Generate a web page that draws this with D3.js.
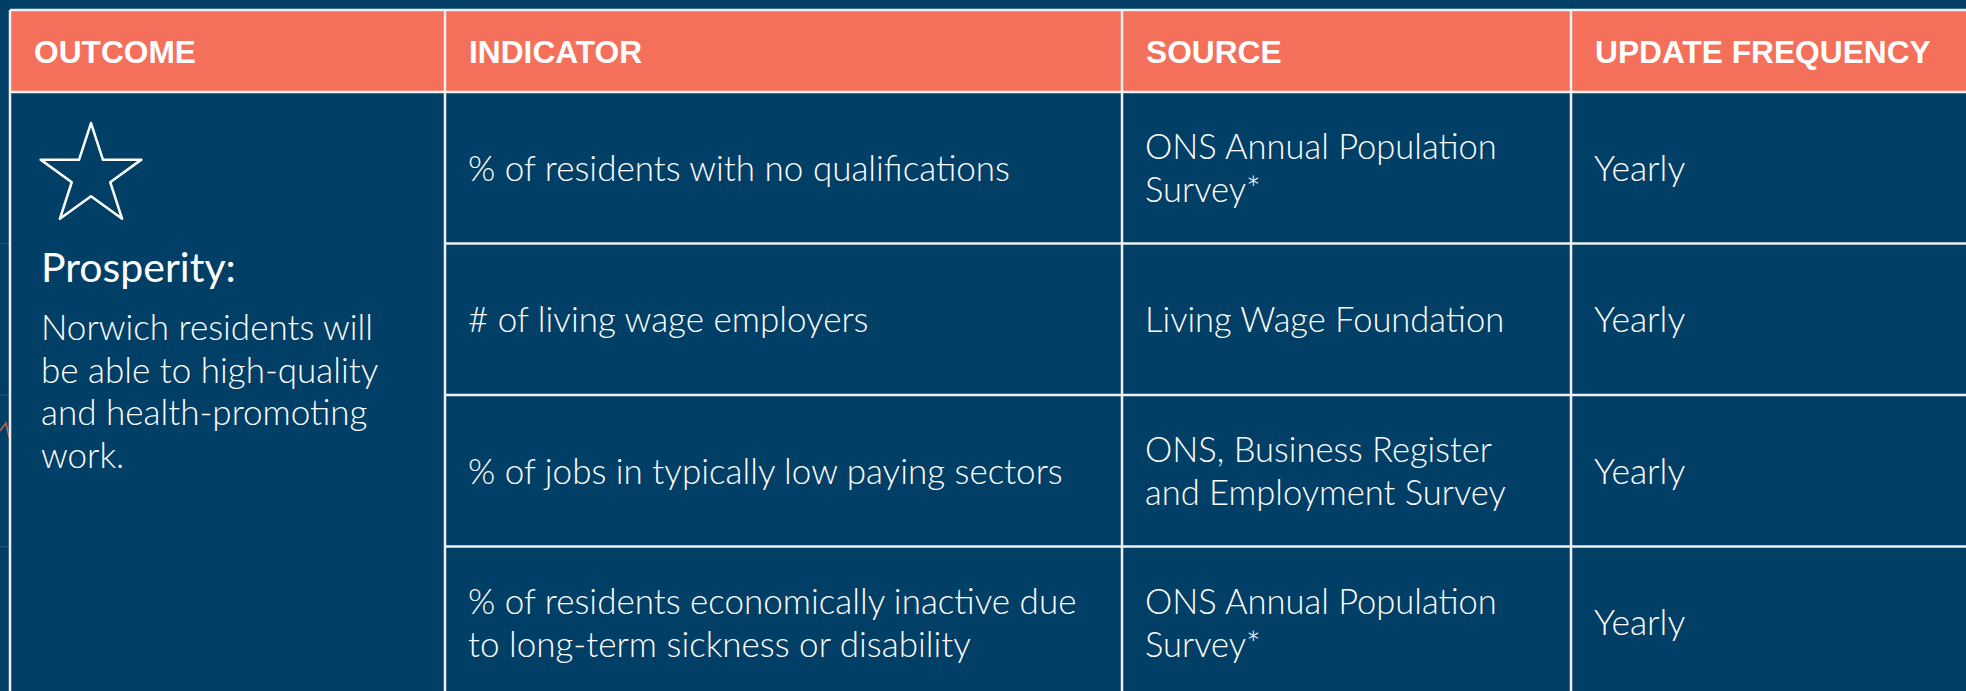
<!DOCTYPE html>
<html>
<head>
<meta charset="utf-8">
<script src="https://cdnjs.cloudflare.com/ajax/libs/d3/7.8.5/d3.min.js"></script>
<style>
html, body { margin: 0; padding: 0; background: #023f66; overflow: hidden; }
</style>
</head>
<body>
<div class="d3Table"></div>
<script>
var headers = ["OUTCOME", "INDICATOR", "SOURCE", "UPDATE FREQUENCY"];
var outcomeTitle = "Prosperity:";
var outcomeLines = ["Norwich residents will", "be able to high-quality", "and health-promoting", "work."];
var indicators = [
    ["% of residents with no qualifications"],
    ["# of living wage employers"],
    ["% of jobs in typically low paying sectors"],
    ["% of residents economically inactive due", "to long-term sickness or disability"]
];
var sources = [
    ["ONS Annual Population", "Survey*"],
    ["Living Wage Foundation"],
    ["ONS, Business Register", "and Employment Survey"],
    ["ONS Annual Population", "Survey*"]
];
var frequencies = ["Yearly", "Yearly", "Yearly", "Yearly"];

var width = 1966, height = 691;
var navy = "#023f66", coral = "#f4705a", line = "#eef0f2";
var bodyFont = "Lato, 'Open Sans', sans-serif";

// column left edges, last one runs off the page
var colX = d3.scaleOrdinal().domain(headers).range([10, 445, 1122, 1571]);
var tableLeft = 10, tableRight = 1990, headTop = 10, headBottom = 92;
var rowY = d3.scaleBand()
    .domain(d3.range(indicators.length))
    .range([headBottom, headBottom + indicators.length * 151.5]);
var lineH = 43;

var svg = d3.select(".d3Table")
    .append("svg")
    .attr("width", width)
    .attr("height", height);

svg.append("rect")
    .attr("width", width)
    .attr("height", height)
    .attr("fill", navy);

// faint guide lines and the stray mark left of the table
svg.selectAll(".ghost")
    .data(indicators.slice(1))
    .enter()
    .append("line")
    .attr("x1", 0).attr("x2", tableLeft)
    .attr("y1", function(d, i) { return rowY(i + 1); })
    .attr("y2", function(d, i) { return rowY(i + 1); })
    .attr("stroke", "#ffffff")
    .attr("stroke-opacity", 0.12)
    .attr("stroke-width", 1);

svg.append("path")
    .attr("d", "M0,431 L6,423 L9,437")
    .attr("fill", "none")
    .attr("stroke", "#b26a62")
    .attr("stroke-width", 1.5);

// header band
svg.append("rect")
    .attr("x", tableLeft)
    .attr("y", headTop)
    .attr("width", tableRight - tableLeft)
    .attr("height", headBottom - headTop)
    .attr("fill", coral);

svg.selectAll(".head")
    .data(headers)
    .enter()
    .append("text")
    .attr("class", "head")
    .attr("x", function(d) { return colX(d) + 24; })
    .attr("y", 63)
    .attr("font-family", "'Liberation Sans', Arial, sans-serif")
    .attr("font-weight", "bold")
    .attr("font-size", 31.7)
    .attr("fill", "white")
    .text(function(d) { return d; });

// grid lines
var grid = svg.append("g")
    .attr("stroke", line)
    .attr("stroke-width", 2.5);

grid.selectAll(".hline")
    .data([headTop, headBottom])
    .enter()
    .append("line")
    .attr("x1", tableLeft).attr("x2", tableRight)
    .attr("y1", function(d) { return d; })
    .attr("y2", function(d) { return d; });

grid.selectAll(".rline")
    .data(indicators.slice(1))
    .enter()
    .append("line")
    .attr("x1", colX(headers[1])).attr("x2", tableRight)
    .attr("y1", function(d, i) { return rowY(i + 1); })
    .attr("y2", function(d, i) { return rowY(i + 1); });

grid.selectAll(".vline")
    .data(headers)
    .enter()
    .append("line")
    .attr("x1", function(d) { return colX(d); })
    .attr("x2", function(d) { return colX(d); })
    .attr("y1", headTop)
    .attr("y2", height + 10);

// outcome cell
svg.append("path")
    .attr("d", d3.symbol(d3.symbolStar, 3150)())
    .attr("transform", "translate(91,176)")
    .attr("fill", "none")
    .attr("stroke", "white")
    .attr("stroke-width", 2.5)
    .attr("stroke-linejoin", "round");

svg.append("text")
    .attr("x", 41)
    .attr("y", 282)
    .attr("font-family", bodyFont)
    .attr("font-weight", 400)
    .attr("font-size", 41)
    .attr("fill", "white")
    .text(outcomeTitle);

svg.selectAll(".desc")
    .data(outcomeLines)
    .enter()
    .append("text")
    .attr("x", 41)
    .attr("y", function(d, i) { return 340 + i * 42.7; })
    .attr("font-family", bodyFont)
    .attr("font-weight", 300)
    .attr("font-size", 35)
    .attr("fill", "white")
    .text(function(d) { return d; });

// body cells
function cellText(lines, col, size) {
    var g = svg.append("g");
    lines.forEach(function(rowLines, r) {
        var mid = rowY(r) + rowY.bandwidth() / 2;
        g.selectAll(null)
            .data(rowLines)
            .enter()
            .append("text")
            .attr("x", colX(col) + 23)
            .attr("y", function(d, i) { return mid + 13 + (i - (rowLines.length - 1) / 2) * lineH; })
            .attr("font-family", bodyFont)
            .attr("font-weight", 300)
            .attr("font-size", size)
            .attr("fill", "white")
            .text(function(d) { return d; });
    });
}

cellText(indicators, headers[1], 35);
cellText(sources, headers[2], 34.5);
cellText(frequencies.map(function(d) { return [d]; }), headers[3], 35.5);
</script>
</body>
</html>
